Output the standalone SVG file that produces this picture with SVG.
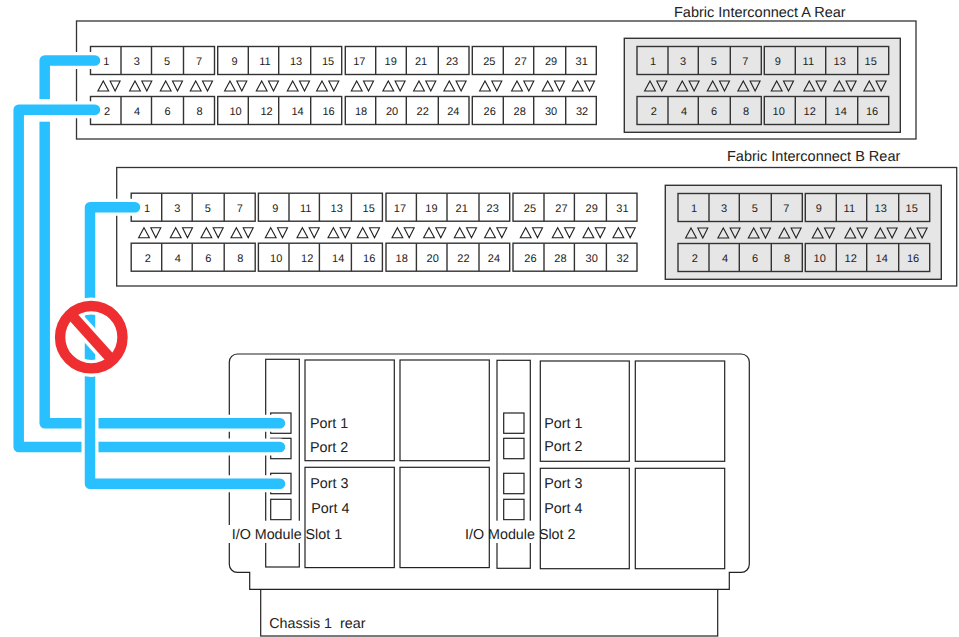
<svg xmlns="http://www.w3.org/2000/svg" width="959" height="637" viewBox="0 0 959 637">
<style>
text{font-family:"Liberation Sans",Arial,sans-serif;fill:#222;text-rendering:geometricPrecision}
.n{font-size:11px;text-anchor:middle}
.l{font-size:14.3px}
.f{font-size:14.5px}
.o{fill:#fff;stroke:#333;stroke-width:1.3}
.c{fill:#fff;stroke:#333;stroke-width:1.4}
.g{fill:#e6e6e6;stroke:#333;stroke-width:1.4}
.d{fill:none;stroke:#333;stroke-width:1.4}
.t{fill:none;stroke:#222;stroke-width:1.1}
.m{fill:#fff;stroke:#222;stroke-width:1.2}
.h{fill:none;stroke:#fff;stroke-width:17;stroke-linejoin:round;stroke-linecap:round}
.b{fill:none;stroke:#29c0ff;stroke-width:10.5;stroke-linejoin:round;stroke-linecap:round}
</style>
<defs>
<g id="pair"><path class="t" d="M0 0l5.4 10h-10.8zM6.8 0h10l-5 10z"/></g>
<g id="main">
<rect class="c" x="90.5" y="46.5" width="124" height="28"/><rect class="c" x="217.7" y="46.5" width="124" height="28"/><rect class="c" x="345.3" y="46.5" width="123.7" height="28"/><rect class="c" x="472.3" y="46.5" width="124" height="28"/>
<rect class="c" x="90.5" y="96.5" width="124" height="28"/><rect class="c" x="217.7" y="96.5" width="124" height="28"/><rect class="c" x="345.3" y="96.5" width="123.7" height="28"/><rect class="c" x="472.3" y="96.5" width="124" height="28"/>
<path class="d" d="M121 46.5v28M151.5 46.5v28M183.5 46.5v28M248.3 46.5v28M278.7 46.5v28M310.7 46.5v28M375.7 46.5v28M406.3 46.5v28M438.3 46.5v28M503.3 46.5v28M533.7 46.5v28M565.7 46.5v28M121 96.5v28M151.5 96.5v28M183.5 96.5v28M248.3 96.5v28M278.7 96.5v28M310.7 96.5v28M375.7 96.5v28M406.3 96.5v28M438.3 96.5v28M503.3 96.5v28M533.7 96.5v28M565.7 96.5v28"/>
<use href="#pair" x="103.3" y="81"/><use href="#pair" x="135" y="81"/><use href="#pair" x="165.7" y="81"/><use href="#pair" x="195.7" y="81"/><use href="#pair" x="230" y="81"/><use href="#pair" x="261.7" y="81"/><use href="#pair" x="292.7" y="81"/><use href="#pair" x="322" y="81"/><use href="#pair" x="356.7" y="81"/><use href="#pair" x="388.3" y="81"/><use href="#pair" x="419" y="81"/><use href="#pair" x="449.3" y="81"/><use href="#pair" x="485" y="81"/><use href="#pair" x="517" y="81"/><use href="#pair" x="547.7" y="81"/><use href="#pair" x="577.7" y="81"/>
</g>
<g id="grey">
<rect class="g" x="624.3" y="38.3" width="276" height="94"/>
<rect class="g" x="637" y="46.5" width="124.3" height="28"/><rect class="g" x="764.3" y="46.5" width="124.4" height="28"/><rect class="g" x="637" y="96.5" width="124.3" height="28"/><rect class="g" x="764.3" y="96.5" width="124.4" height="28"/>
<path class="d" d="M668 46.5v28M698.3 46.5v28M730.3 46.5v28M795.3 46.5v28M825.7 46.5v28M857.7 46.5v28M668 96.5v28M698.3 96.5v28M730.3 96.5v28M795.3 96.5v28M825.7 96.5v28M857.7 96.5v28"/>
<use href="#pair" x="650" y="81"/><use href="#pair" x="682.3" y="81"/><use href="#pair" x="712.7" y="81"/><use href="#pair" x="743.3" y="81"/><use href="#pair" x="776.7" y="81"/><use href="#pair" x="809.3" y="81"/><use href="#pair" x="839.3" y="81"/><use href="#pair" x="869.3" y="81"/>
</g>
</defs>
<g id="fi-a">
<rect class="o" x="76.5" y="21" width="839.5" height="118"/>
<text class="f" x="674" y="17">Fabric Interconnect A Rear</text>
<use href="#main"/><use href="#grey"/>
<text class="n" x="106.3" y="65">1</text><text class="n" x="136.7" y="65">3</text><text class="n" x="167" y="65">5</text><text class="n" x="199" y="65">7</text><text class="n" x="234.5" y="65">9</text><text class="n" x="265" y="65">11</text><text class="n" x="296" y="65">13</text><text class="n" x="328" y="65">15</text><text class="n" x="359.3" y="65">17</text><text class="n" x="390.7" y="65">19</text><text class="n" x="421" y="65">21</text><text class="n" x="452" y="65">23</text><text class="n" x="489.3" y="65">25</text><text class="n" x="520.7" y="65">27</text><text class="n" x="551" y="65">29</text><text class="n" x="581.7" y="65">31</text>
<text class="n" x="107" y="115">2</text><text class="n" x="137" y="115">4</text><text class="n" x="167.5" y="115">6</text><text class="n" x="199.5" y="115">8</text><text class="n" x="235.5" y="115">10</text><text class="n" x="266.5" y="115">12</text><text class="n" x="297.5" y="115">14</text><text class="n" x="328.5" y="115">16</text><text class="n" x="361" y="115">18</text><text class="n" x="392" y="115">20</text><text class="n" x="422.7" y="115">22</text><text class="n" x="453.3" y="115">24</text><text class="n" x="489.7" y="115">26</text><text class="n" x="519.7" y="115">28</text><text class="n" x="551" y="115">30</text><text class="n" x="582" y="115">32</text>
<text class="n" x="653" y="65">1</text><text class="n" x="683" y="65">3</text><text class="n" x="713.7" y="65">5</text><text class="n" x="745.3" y="65">7</text><text class="n" x="777.7" y="65">9</text><text class="n" x="808.3" y="65">11</text><text class="n" x="839.7" y="65">13</text><text class="n" x="870.7" y="65">15</text>
<text class="n" x="653.7" y="115">2</text><text class="n" x="684" y="115">4</text><text class="n" x="714" y="115">6</text><text class="n" x="746" y="115">8</text><text class="n" x="778.7" y="115">10</text><text class="n" x="809.7" y="115">12</text><text class="n" x="840.7" y="115">14</text><text class="n" x="872" y="115">16</text>
</g>
<g id="fi-b">
<rect class="o" x="116.7" y="167.5" width="840" height="118.5"/>
<text class="f" x="727" y="161">Fabric Interconnect B Rear</text>
<g transform="translate(40.7 146.7)">
<use href="#main"/>
<text class="n" x="106.3" y="65">1</text><text class="n" x="136.7" y="65">3</text><text class="n" x="167" y="65">5</text><text class="n" x="199" y="65">7</text><text class="n" x="234.5" y="65">9</text><text class="n" x="265" y="65">11</text><text class="n" x="296" y="65">13</text><text class="n" x="328" y="65">15</text><text class="n" x="359.3" y="65">17</text><text class="n" x="390.7" y="65">19</text><text class="n" x="421" y="65">21</text><text class="n" x="452" y="65">23</text><text class="n" x="489.3" y="65">25</text><text class="n" x="520.7" y="65">27</text><text class="n" x="551" y="65">29</text><text class="n" x="581.7" y="65">31</text>
<text class="n" x="107" y="115">2</text><text class="n" x="137" y="115">4</text><text class="n" x="167.5" y="115">6</text><text class="n" x="199.5" y="115">8</text><text class="n" x="235.5" y="115">10</text><text class="n" x="266.5" y="115">12</text><text class="n" x="297.5" y="115">14</text><text class="n" x="328.5" y="115">16</text><text class="n" x="361" y="115">18</text><text class="n" x="392" y="115">20</text><text class="n" x="422.7" y="115">22</text><text class="n" x="453.3" y="115">24</text><text class="n" x="489.7" y="115">26</text><text class="n" x="519.7" y="115">28</text><text class="n" x="551" y="115">30</text><text class="n" x="582" y="115">32</text>
</g>
<g transform="translate(41 147)">
<use href="#grey"/>
<text class="n" x="653" y="65">1</text><text class="n" x="683" y="65">3</text><text class="n" x="713.7" y="65">5</text><text class="n" x="745.3" y="65">7</text><text class="n" x="777.7" y="65">9</text><text class="n" x="808.3" y="65">11</text><text class="n" x="839.7" y="65">13</text><text class="n" x="870.7" y="65">15</text>
<text class="n" x="653.7" y="115">2</text><text class="n" x="684" y="115">4</text><text class="n" x="714" y="115">6</text><text class="n" x="746" y="115">8</text><text class="n" x="778.7" y="115">10</text><text class="n" x="809.7" y="115">12</text><text class="n" x="840.7" y="115">14</text><text class="n" x="872" y="115">16</text>
</g>
</g>
<g id="chassis">
<rect class="m" x="260.7" y="589.3" width="457" height="46.7"/>
<path class="m" d="M237.3 354H741.3a8 8 0 0 1 8 8V564.3a8 8 0 0 1-8 8H729.3V589.3H249.7V572.3H237.3a8 8 0 0 1-8-8V362a8 8 0 0 1 8-8z"/>
<text class="l" x="269.3" y="628" xml:space="preserve">Chassis 1  rear</text>
<g id="slot-1">
<rect class="m" x="265.7" y="359.3" width="33.6" height="207.7"/>
<rect class="m" x="305" y="360" width="89.3" height="100.7"/><rect class="m" x="305" y="467.3" width="89.3" height="100.3"/>
<rect class="m" x="400" y="360" width="89.3" height="100.7"/><rect class="m" x="400" y="467.3" width="89.3" height="100.3"/>
<rect class="m" x="270.7" y="413" width="20.3" height="20.3"/><rect class="m" x="270.7" y="438.3" width="20.3" height="20.4"/><rect class="m" x="270.7" y="473.3" width="20.3" height="20.4"/><rect class="m" x="270.7" y="499.3" width="20.3" height="20.4"/>
<text class="l" x="310" y="428">Port 1</text><text class="l" x="310" y="451.5">Port 2</text><text class="l" x="310.3" y="488">Port 3</text><text class="l" x="311.3" y="513">Port 4</text>
<path fill="#fff" d="M228 525H262V520.7H302V543H228z"/>
<text class="l" x="231.7" y="539.3">I/O Module Slot 1</text>
</g>
<g id="slot-2">
<rect class="m" x="497" y="360.3" width="33.3" height="208"/>
<rect class="m" x="540.3" y="361" width="89" height="100.3"/><rect class="m" x="540.3" y="468.3" width="89" height="100.4"/>
<rect class="m" x="635.3" y="361" width="89.4" height="100.3"/><rect class="m" x="635.3" y="468.3" width="89.4" height="100.4"/>
<rect class="m" x="503.7" y="413" width="20.3" height="20.3"/><rect class="m" x="503.7" y="438.3" width="20.3" height="20.4"/><rect class="m" x="503.7" y="473.3" width="20.3" height="20.4"/><rect class="m" x="503.7" y="499.3" width="20.3" height="20.4"/>
<text class="l" x="544.3" y="428.3">Port 1</text><text class="l" x="544.3" y="451">Port 2</text><text class="l" x="544.3" y="488.3">Port 3</text><text class="l" x="544.3" y="513">Port 4</text>
<rect fill="#fff" x="491" y="520.7" width="44" height="22.3"/>
<text class="l" x="465" y="539">I/O Module Slot 2</text>
</g>
</g>
<g id="connectors">
<path class="h" d="M95 60.5H44.7V423.3H280"/>
<path class="b" d="M95 60.5H44.7V423.3H280"/>
<rect fill="#fff" x="38" y="99" width="13.5" height="22.7"/>
<path class="h" d="M95 109.7H18.7V447H280"/>
<path class="b" d="M95 109.7H18.7V447H280"/>
<path class="h" d="M135 207.3H90V483.7H280"/>
<path class="b" d="M135 207.3H90V483.7H280"/>
</g>
<g id="no-sign" fill="none">
<circle cx="91.3" cy="337.2" r="31.2" stroke="#fff" stroke-width="17"/>
<path d="M70.6 314L112 360" stroke="#fff" stroke-width="17.5"/>
<circle cx="91.3" cy="337.2" r="31.2" stroke="#ee2e30" stroke-width="10.4"/>
<path d="M70.6 314L112 360" stroke="#ee2e30" stroke-width="10.4"/>
</g>
</svg>
